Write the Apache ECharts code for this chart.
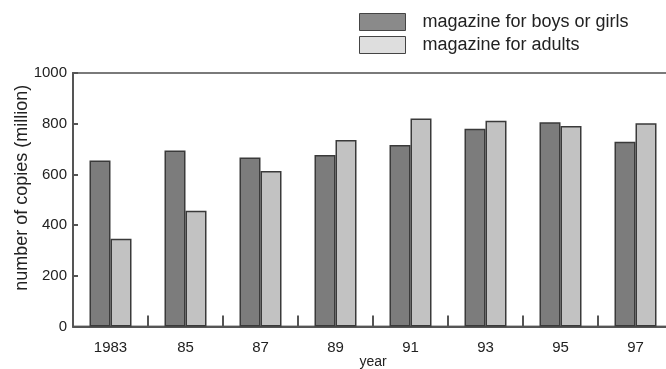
<!DOCTYPE html>
<html>
<head>
<meta charset="utf-8">
<script src="https://cdn.jsdelivr.net/npm/echarts@6/dist/echarts.min.js"></script>
<style>
html,body{margin:0;padding:0;background:#fff;}
#chart{width:666px;height:369px;}
</style>
</head>
<body>
<div id="chart"></div>
<script>
var categories = ['1983', '85', '87', '89', '91', '93', '95', '97'];
var boysGirls = [655, 694, 667, 677, 716, 780, 806, 729];
var adults = [346, 457, 613, 736, 821, 812, 791, 802];
var seriesNames = ['magazine for boys or girls', 'magazine for adults'];
var yTicks = [0, 200, 400, 600, 800, 1000];

var chart = echarts.init(document.getElementById('chart'));
var font = 'Liberation Sans, Arial, sans-serif';
chart.setOption({
  animation: false,
  backgroundColor: '#fff',
  legend: {
    orient: 'vertical',
    left: 359,
    top: 13,
    padding: 0,
    itemWidth: 46,
    itemHeight: 17,
    itemGap: 5,
    textStyle: { fontFamily: font, fontSize: 18, color: '#222', padding: [0, 0, 0, 12] },
    data: [
      { name: seriesNames[0], icon: 'rect', itemStyle: { color: '#8a8a8a', borderColor: '#444', borderWidth: 1 } },
      { name: seriesNames[1], icon: 'rect', itemStyle: { color: '#dedede', borderColor: '#444', borderWidth: 1 } }
    ]
  },
  grid: {
    left: 73, right: -7, top: 73, bottom: 42.5,
    outerBoundsMode: 'none',
    containLabel: false,
    show: true, borderColor: '#7a7a7a', borderWidth: 2
  },
  xAxis: {
    type: 'category',
    data: categories,
    name: 'year',
    nameLocation: 'middle',
    nameGap: 29,
    nameMoveOverlap: false,
    nameTextStyle: { fontFamily: font, fontSize: 14, color: '#222' },
    axisLine: { lineStyle: { color: '#555', width: 2 } },
    axisTick: { show: true, inside: true, length: 11, lineStyle: { color: '#555', width: 2 } },
    axisLabel: { fontFamily: font, fontSize: 15, color: '#222', margin: 14 }
  },
  yAxis: {
    type: 'value',
    min: 0, max: 1000, interval: 200,
    name: 'number of copies (million)',
    nameLocation: 'middle',
    nameGap: 42,
    nameMoveOverlap: false,
    nameTextStyle: { fontFamily: font, fontSize: 18, color: '#222', padding: [0, 0, 0, 24] },
    axisLine: { show: true, lineStyle: { color: '#555', width: 2 } },
    axisTick: { show: true, inside: true, length: 5, lineStyle: { color: '#555', width: 2 } },
    axisLabel: { fontFamily: font, fontSize: 15, color: '#222', margin: 6,
      formatter: function (v) { return yTicks.indexOf(v) >= 0 ? String(v) : ''; } },
    splitLine: { show: false }
  },
  series: [
    {
      name: seriesNames[0], type: 'bar', data: boysGirls,
      barWidth: 21, barGap: '0%',
      itemStyle: { color: '#7c7c7c', borderColor: '#3a3a3a', borderWidth: 1.5 }
    },
    {
      name: seriesNames[1], type: 'bar', data: adults,
      barWidth: 21,
      itemStyle: { color: '#c2c2c2', borderColor: '#3a3a3a', borderWidth: 1.5 }
    }
  ]
});
</script>
</body>
</html>
